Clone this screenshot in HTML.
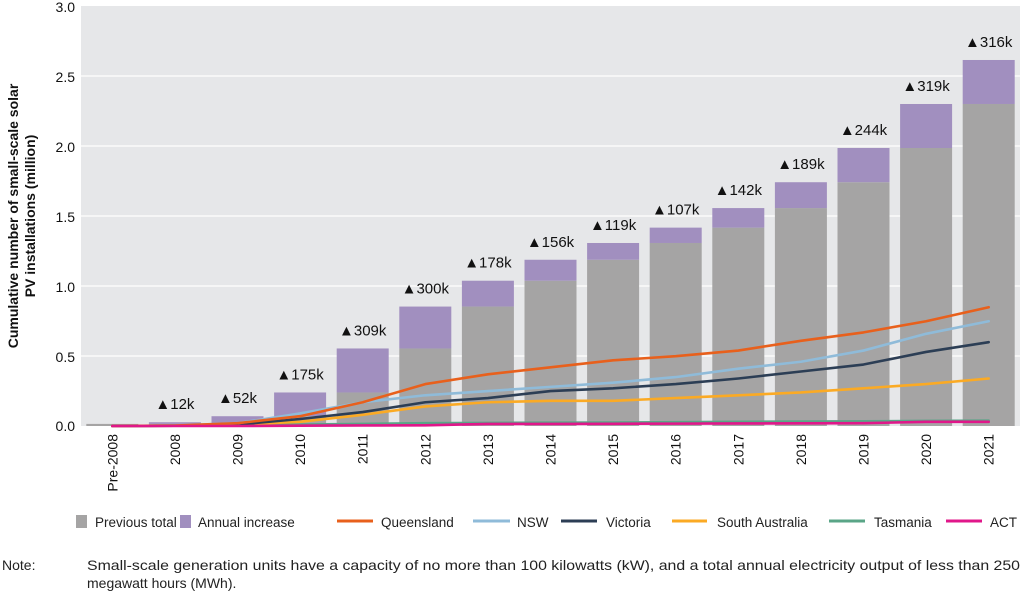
<!DOCTYPE html>
<html><head><meta charset="utf-8"><style>
html,body{margin:0;padding:0;background:#fff;}
svg{display:block;font-family:"Liberation Sans",Arial,sans-serif;}
</style></head><body>
<svg width="1024" height="595" viewBox="0 0 1024 595">
<rect x="81" y="6" width="939" height="420" fill="#e6e7e9"/>
<g stroke="#fff" stroke-width="1.2">
<line x1="81" x2="1020" y1="76" y2="76"/><line x1="81" x2="1020" y1="146" y2="146"/>
<line x1="81" x2="1020" y1="216" y2="216"/><line x1="81" x2="1020" y1="286" y2="286"/>
<line x1="81" x2="1020" y1="356" y2="356"/>
</g>
<g font-size="14" fill="#111" text-anchor="end">
<text x="75" y="12">3.0</text><text x="75" y="82">2.5</text><text x="75" y="152">2.0</text>
<text x="75" y="222">1.5</text><text x="75" y="292">1.0</text><text x="75" y="362">0.5</text><text x="75" y="431">0.0</text>
</g>
<text font-size="14" font-weight="bold" fill="#111" text-anchor="middle" transform="translate(18,216) rotate(-90)">Cumulative number of small-scale solar</text>
<text font-size="14" font-weight="bold" fill="#111" text-anchor="middle" transform="translate(35,216) rotate(-90)">PV installations (million)</text>
<g id="bars"></g>
<g id="lines" fill="none" stroke-width="2.6" stroke-linejoin="round" stroke-linecap="round"></g>
<g id="labels" font-size="15" fill="#111" text-anchor="middle"></g>
<g id="xl" font-size="14" fill="#111"></g>
<g font-size="13.5" fill="#222">
<rect x="76" y="515" width="11" height="13" fill="#a5a4a4"/><text x="95" y="527">Previous total</text>
<rect x="180" y="515" width="11" height="13" fill="#a18fbf"/><text x="198" y="527">Annual increase</text>
<line x1="337" x2="373" y1="521" y2="521" stroke="#e8601c" stroke-width="3"/><text x="381" y="527">Queensland</text>
<line x1="473" x2="510" y1="521" y2="521" stroke="#8fbbd9" stroke-width="3"/><text x="517" y="527">NSW</text>
<line x1="561" x2="597" y1="521" y2="521" stroke="#2c3e55" stroke-width="3"/><text x="606" y="527">Victoria</text>
<line x1="672" x2="707" y1="521" y2="521" stroke="#fbaa24" stroke-width="3"/><text x="717" y="527">South Australia</text>
<line x1="829" x2="865" y1="521" y2="521" stroke="#5aa587" stroke-width="3"/><text x="874" y="527">Tasmania</text>
<line x1="946" x2="982" y1="521" y2="521" stroke="#e0178a" stroke-width="3"/><text x="990" y="527">ACT</text>
</g>
<g font-size="14" fill="#222">
<text x="2" y="570">Note:</text>
<text x="87" y="570" textLength="933" lengthAdjust="spacingAndGlyphs">Small-scale generation units have a capacity of no more than 100 kilowatts (kW), and a total annual electricity output of less than 250</text>
<text x="87" y="588">megawatt hours (MWh).</text>
</g>
</svg>
<script>
const ns="http://www.w3.org/2000/svg";
const Y=v=>426-v*139.7, X=i=>81+62.6*(i+0.5);
const cats=["Pre-2008","2008","2009","2010","2011","2012","2013","2014","2015","2016","2017","2018","2019","2020","2021"];
const prev=[0.015,0.015,0.02,0.07,0.24,0.555,0.855,1.04,1.19,1.31,1.42,1.56,1.745,1.99,2.305];
const tot=[0.015,0.027,0.07,0.24,0.555,0.855,1.04,1.19,1.31,1.42,1.56,1.745,1.99,2.305,2.62];
const labs=[null,"12k","52k","175k","309k","300k","178k","156k","119k","107k","142k","189k","244k","319k","316k"];
function el(t,a,p){const e=document.createElementNS(ns,t);for(const k in a)e.setAttribute(k,a[k]);document.getElementById(p).appendChild(e);return e;}
cats.forEach((c,i)=>{
 const x=X(i)-26;
 el("rect",{x:x,y:Y(prev[i]),width:52,height:426-Y(prev[i]),fill:"#a5a4a4"},"bars");
 if(tot[i]>prev[i]) el("rect",{x:x,y:Y(tot[i]),width:52,height:Y(prev[i])-Y(tot[i]),fill:"#a18fbf"},"bars");
 if(labs[i]){const t=el("text",{x:X(i),y:Math.min(Y(tot[i])-13,410)},"labels");t.textContent="\u25B2"+labs[i];}
 const t=el("text",{transform:`translate(${X(i)+5},434) rotate(-90)`,"text-anchor":"end"},"xl");t.textContent=c;
});
const L={
"#5aa587":[0,0.002,0.005,0.01,0.015,0.02,0.022,0.024,0.025,0.027,0.03,0.032,0.034,0.036,0.038],
"#fbaa24":[0,0.002,0.01,0.03,0.08,0.14,0.17,0.18,0.18,0.2,0.22,0.24,0.27,0.3,0.34],
"#2c3e55":[0,0.002,0.01,0.05,0.1,0.17,0.2,0.25,0.27,0.3,0.34,0.39,0.44,0.53,0.6],
"#8fbbd9":[0,0.003,0.02,0.09,0.17,0.22,0.25,0.28,0.31,0.35,0.41,0.46,0.54,0.66,0.75],
"#e8601c":[0,0.003,0.02,0.07,0.17,0.3,0.37,0.42,0.47,0.5,0.54,0.61,0.67,0.75,0.85],
"#e0178a":[0,0,0,0.002,0.004,0.005,0.015,0.015,0.016,0.017,0.018,0.019,0.02,0.03,0.03]};
for(const c in L){el("polyline",{points:L[c].map((v,i)=>X(i)+","+Y(v)).join(" "),stroke:c},"lines");}
</script>
</body></html>
